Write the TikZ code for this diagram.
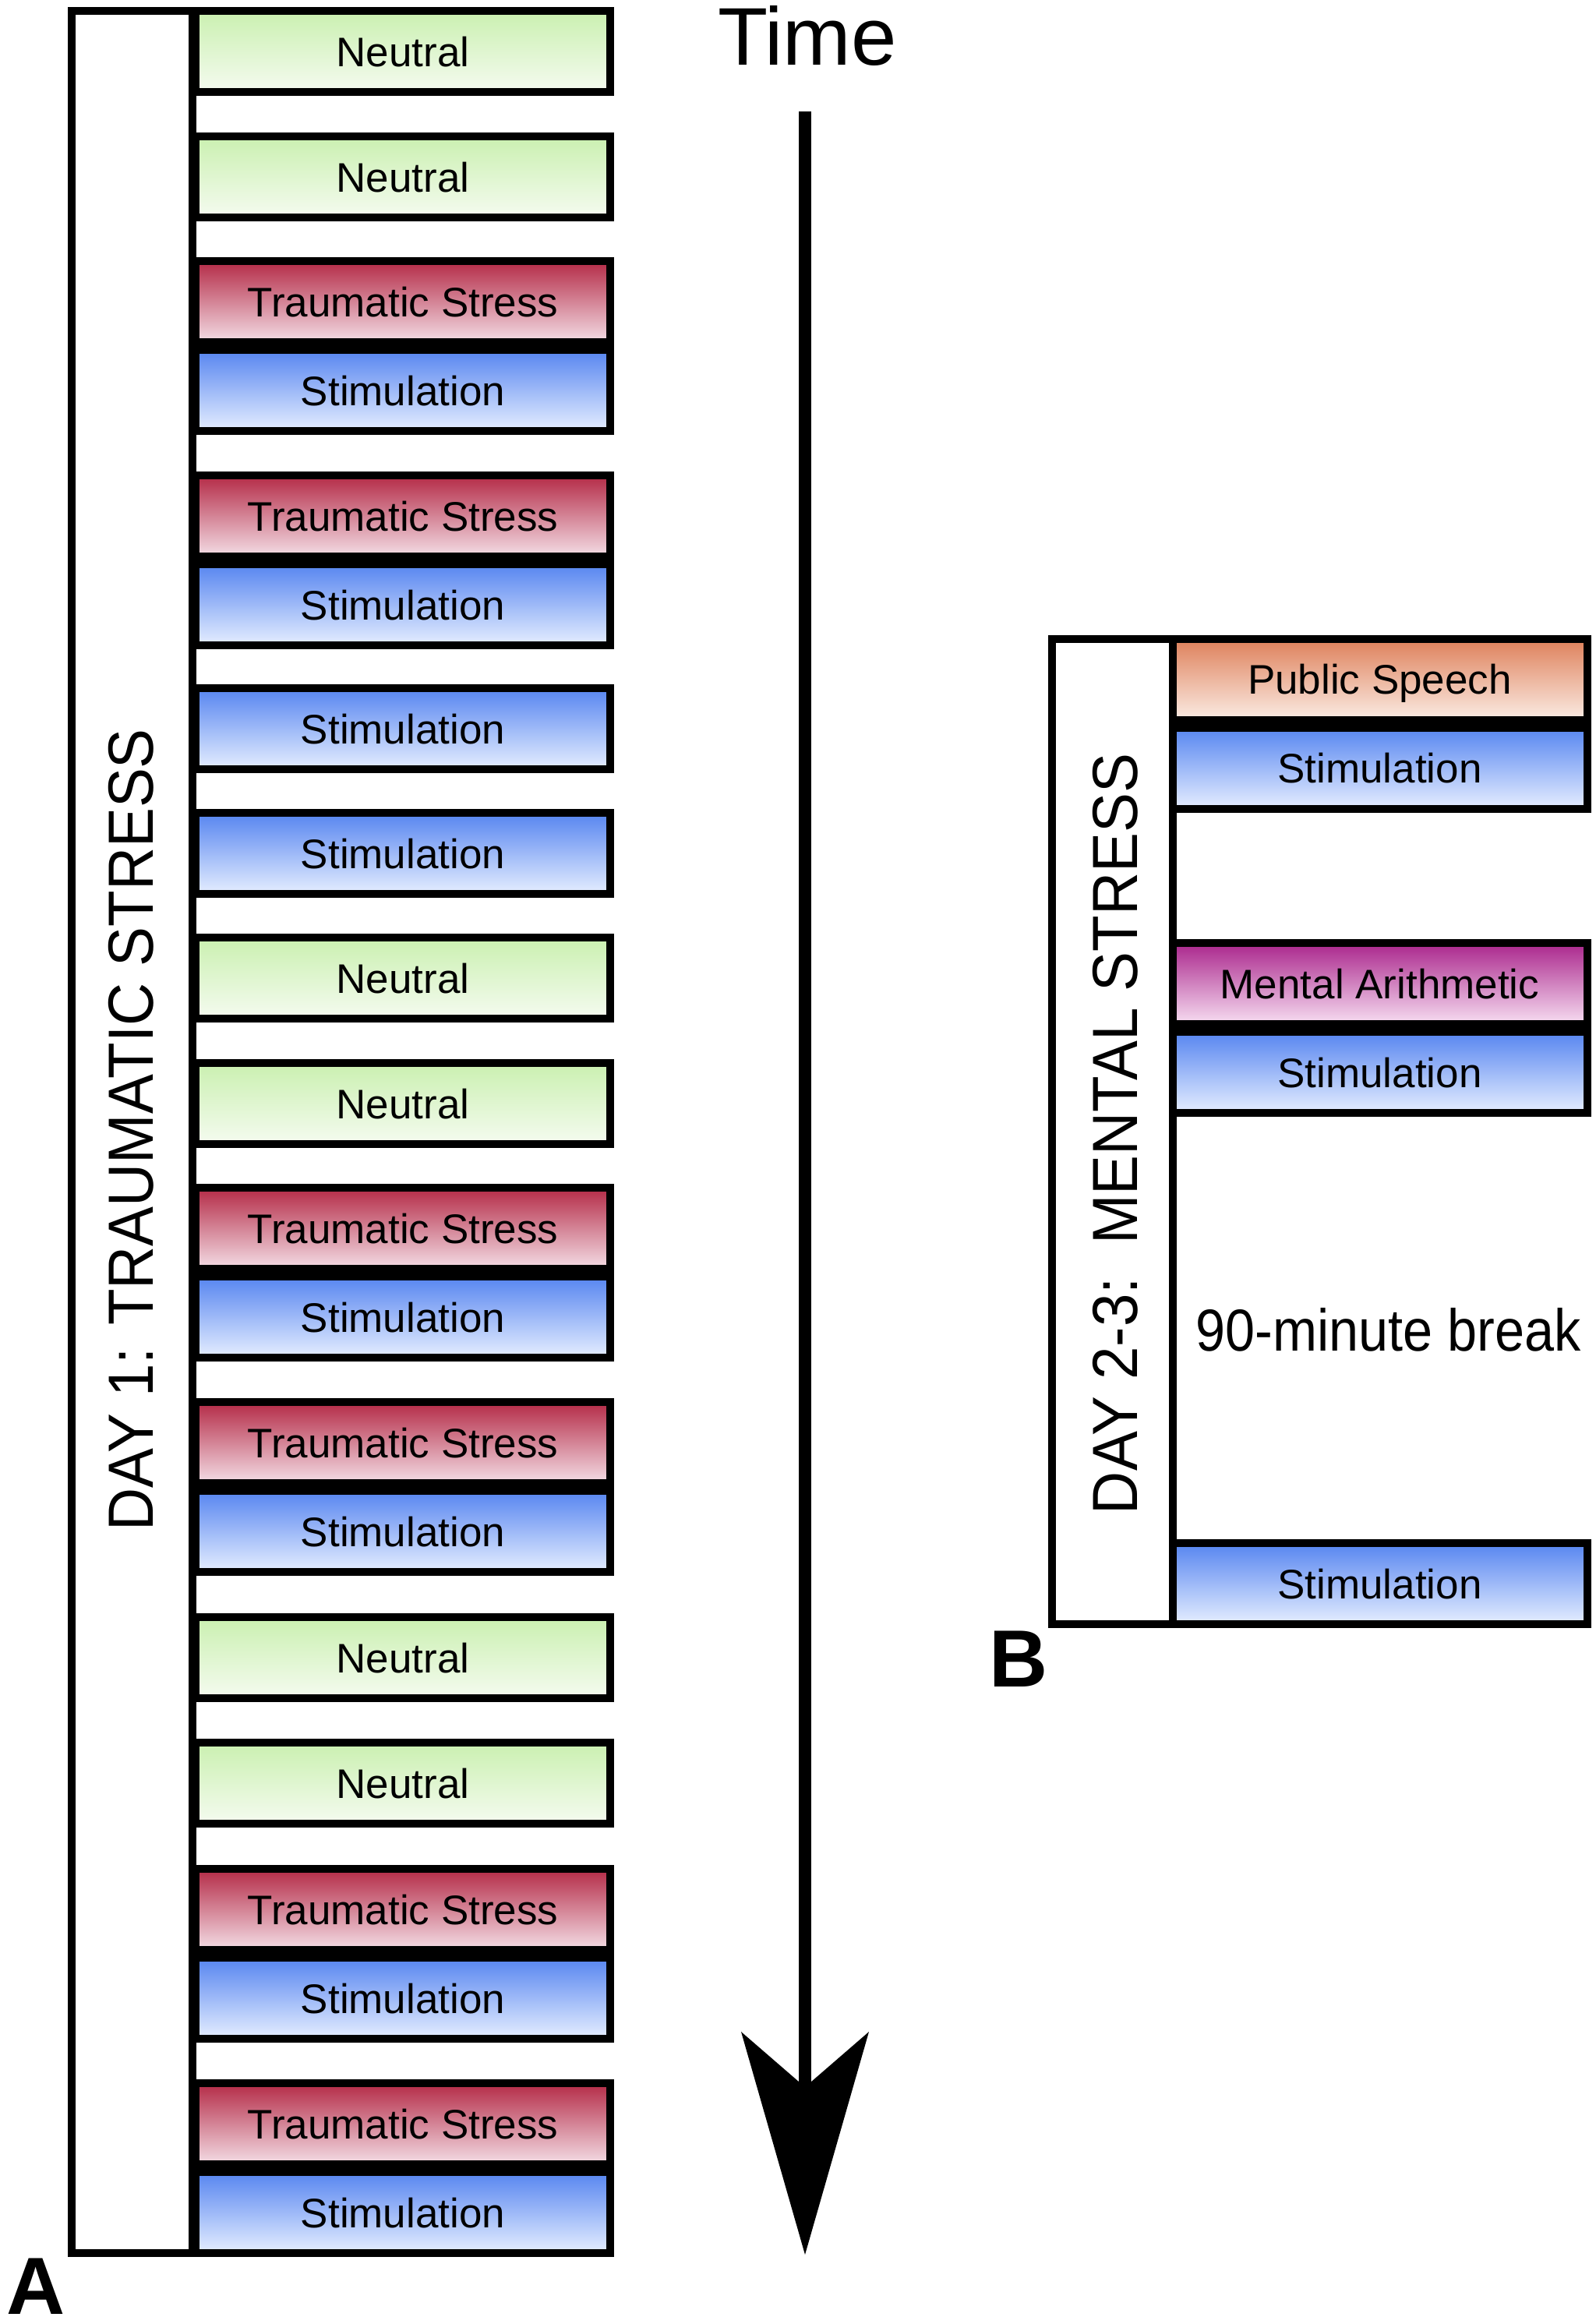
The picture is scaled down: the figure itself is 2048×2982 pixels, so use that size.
\documentclass[tikz,border=0pt]{standalone}
\usepackage{fontspec}
\setmainfont{Liberation Sans}
\usetikzlibrary{arrows.meta}
\definecolor{ngT}{RGB}{202,240,176}
\definecolor{ngB}{RGB}{245,251,240}
\definecolor{tsT}{RGB}{180,42,70}
\definecolor{tsB}{RGB}{244,222,230}
\definecolor{stT}{RGB}{86,133,240}
\definecolor{stB}{RGB}{230,238,255}
\definecolor{psT}{RGB}{222,128,90}
\definecolor{psB}{RGB}{251,236,228}
\definecolor{maT}{RGB}{170,38,140}
\definecolor{maB}{RGB}{247,222,242}
\begin{document}
\begin{tikzpicture}[x=0.5pt,y=-0.5pt,
  every node/.style={inner sep=0pt,outer sep=0pt},
  stagebox/.style={draw=black,line width=5pt,minimum width=266pt,minimum height=52pt,
     font=\fontsize{26.5}{30}\selectfont,text height=19pt,text depth=0pt},
  neutralbox/.style={stagebox,top color=ngT,bottom color=ngB},
  traumabox/.style={stagebox,top color=tsT,bottom color=tsB},
  stimbox/.style={stagebox,top color=stT,bottom color=stB},
  speechbox/.style={stagebox,top color=psT,bottom color=psB},
  mathbox/.style={stagebox,top color=maT,bottom color=maB},
  daycol/.style={draw=black,line width=5pt,fill=white,minimum width=77.5pt},
  daylabel/.style={rotate=90,font=\fontsize{41}{45}\selectfont},
  panel/.style={font=\bfseries\fontsize{52}{54}\selectfont}
]
\useasboundingbox (0,0) rectangle (2048,2982);
\fill[white] (0,0) rectangle (2048,2982);

% ---------- Panel A ----------
\node[daycol,minimum height=1438.5pt] (frameA) at (169.5,1452.5) {};
\node[daylabel] (dayA) at (168,1450) {\scalebox{0.93}[1]{DAY 1: TRAUMATIC STRESS}};

\node[neutralbox] (a1)  at (517,66)   {Neutral};
\node[neutralbox] (a2)  at (517,227)  {Neutral};
\node[traumabox]  (a3)  at (517,387)  {Traumatic Stress};
\node[stimbox]    (a4)  at (517,501)  {Stimulation};
\node[traumabox]  (a5)  at (517,662)  {Traumatic Stress};
\node[stimbox]    (a6)  at (517,776)  {Stimulation};
\node[stimbox]    (a7)  at (517,935)  {Stimulation};
\node[stimbox]    (a8)  at (517,1095) {Stimulation};
\node[neutralbox] (a9)  at (517,1255) {Neutral};
\node[neutralbox] (a10) at (517,1416) {Neutral};
\node[traumabox]  (a11) at (517,1576) {Traumatic Stress};
\node[stimbox]    (a12) at (517,1690) {Stimulation};
\node[traumabox]  (a13) at (517,1851) {Traumatic Stress};
\node[stimbox]    (a14) at (517,1965) {Stimulation};
\node[neutralbox] (a15) at (517,2127) {Neutral};
\node[neutralbox] (a16) at (517,2288) {Neutral};
\node[traumabox]  (a17) at (517,2450) {Traumatic Stress};
\node[stimbox]    (a18) at (517,2564) {Stimulation};
\node[traumabox]  (a19) at (517,2725) {Traumatic Stress};
\node[stimbox]    (a20) at (517,2839) {Stimulation};

\node[panel] (lblA) at (46,2934) {A};

% ---------- Time arrow ----------
\node[font=\fontsize{52.5}{55}\selectfont] (time) at (1036,46) {Time};
\coordinate (arrTop) at (1033,143);
\coordinate (arrTip) at (1033,2893);
\draw[line width=8pt,-{Stealth[length=143pt,width=82pt,inset=35.5pt,line width=0pt]}] (arrTop) -- (arrTip);

% ---------- Panel B ----------
\node[daycol,minimum height=632pt] (frameB) at (1427.5,1452) {};
\node[daylabel] (dayB) at (1431,1455) {\scalebox{0.93}[1]{DAY 2-3:\ \ MENTAL STRESS}};

\node[speechbox] (b1) at (1770.5,871.5) {Public Speech};
\node[stimbox]   (b2) at (1770.5,985.5) {Stimulation};
\node[mathbox]   (b3) at (1770.5,1262)  {Mental Arithmetic};
\node[stimbox]   (b4) at (1770.5,1376)  {Stimulation};
\node[stimbox]   (b5) at (1770.5,2032)  {Stimulation};

\node[font=\fontsize{38}{40}\selectfont] (brk) at (1782,1706) {\scalebox{0.9}[1]{90-minute break}};

\node[panel] (lblB) at (1307,2129) {B};
\end{tikzpicture}
\end{document}
